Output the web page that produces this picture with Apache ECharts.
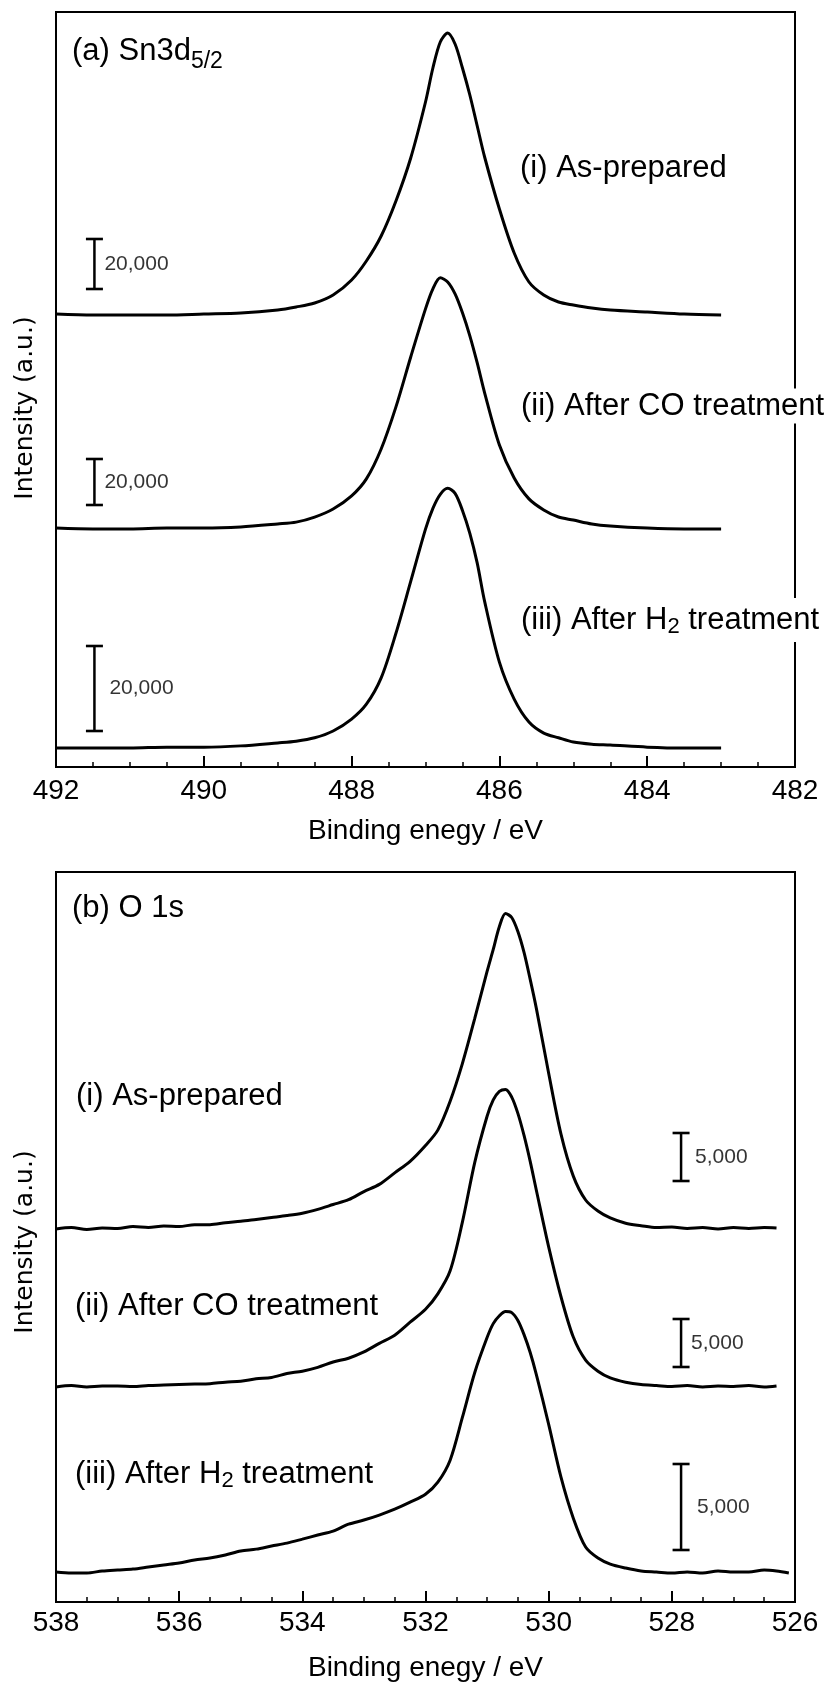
<!DOCTYPE html>
<html>
<head>
<meta charset="utf-8">
<script src="https://cdn.jsdelivr.net/npm/echarts@6/dist/echarts.min.js"></script>
<style>
html,body{margin:0;padding:0;background:#fff;}
#c{width:831px;height:1685px;}
</style>
</head>
<body>
<div id="c"></div>
<script>
// ---------------- DATA ----------------
// (a) Sn3d5/2 : binding energy (eV) and intensity above baseline (counts)
const energyA = [492.0, 491.5, 491.0, 490.5, 490.0, 489.5, 489.0, 488.75, 488.5, 488.25, 488.0, 487.8, 487.6, 487.4, 487.2, 487.0, 486.9, 486.8, 486.7, 486.6, 486.5, 486.4, 486.3, 486.2, 486.0, 485.8, 485.6, 485.4, 485.2, 485.0, 484.75, 484.5, 484.0, 483.5, 483.0];
const snAsPrepared = [800, 400, 400, 400, 800, 1200, 2400, 3600, 5200, 8400, 14400, 22000, 32000, 46000, 63200, 85600, 99200, 109600, 113200, 108800, 99200, 88400, 76000, 63600, 42800, 25200, 13600, 8400, 5600, 4400, 3200, 2400, 1600, 800, 400];
const snAfterCO = [400, 0, 0, 400, 400, 900, 2200, 3000, 5200, 8700, 14400, 21800, 34800, 53100, 74800, 95700, 104400, 109200, 107400, 102200, 94000, 84000, 72200, 59200, 36500, 22200, 13100, 8300, 5200, 3900, 2200, 1300, 400, 0, 0];
const snAfterH2 = [0, 0, 0, 200, 200, 500, 1200, 1600, 2400, 4000, 6800, 10300, 16500, 27000, 39200, 51500, 56400, 59700, 61100, 59900, 55900, 50500, 43500, 34500, 20200, 11500, 6100, 3500, 2400, 1400, 900, 700, 200, 0, 0];

// (b) O 1s
const energyB = [538.0, 537.75, 537.5, 537.25, 537.0, 536.75, 536.5, 536.25, 536.0, 535.75, 535.5, 535.25, 535.0, 534.75, 534.5, 534.25, 534.0, 533.75, 533.5, 533.25, 533.0, 532.75, 532.5, 532.25, 532.0, 531.8, 531.6, 531.4, 531.2, 531.0, 530.9, 530.8, 530.7, 530.6, 530.5, 530.4, 530.3, 530.2, 530.0, 529.8, 529.6, 529.4, 529.2, 529.0, 528.75, 528.5, 528.25, 528.0, 527.75, 527.5, 527.25, 527.0, 526.75, 526.5, 526.3, 526.1];
const oAsPrepared = [0, 150, -50, 100, 50, 250, 150, 300, 250, 450, 450, 650, 800, 1000, 1200, 1400, 1650, 2050, 2550, 3050, 3900, 4650, 5850, 7050, 8700, 10300, 13310, 17260, 21940, 26830, 29120, 31510, 32860, 32450, 30990, 28810, 26000, 22980, 16220, 9880, 5510, 3020, 1870, 1150, 600, 350, 150, 200, 50, 150, 0, 150, 50, 150, 100, null];
const oAfterCO = [0, 150, 0, 100, 100, 50, 150, 200, 250, 300, 350, 500, 600, 850, 1000, 1400, 1650, 2050, 2600, 3000, 3650, 4550, 5400, 6750, 8100, 9700, 12100, 17200, 23400, 28200, 29900, 30800, 31000, 30200, 28500, 26200, 23500, 20500, 14600, 9400, 5200, 2800, 1650, 950, 500, 250, 150, 50, 150, 0, 100, 50, 150, 0, 100, null];
const oAfterH2 = [0, -60, -60, 60, 120, 170, 290, 410, 520, 700, 810, 990, 1220, 1330, 1510, 1680, 1910, 2150, 2380, 2780, 3020, 3310, 3650, 4060, 4520, 5220, 6500, 9000, 11600, 13630, 14440, 14900, 15140, 15080, 14620, 13800, 12760, 11480, 8580, 5510, 3130, 1450, 810, 460, 230, 60, 0, -60, 0, -60, 60, 0, 0, 120, 60, -60];

const xTicksA = {min: 482, max: 492, step: 2};
const xTicksB = {min: 526, max: 538, step: 2};
const scaleUnitA = 20000;
const scaleUnitB = 5000;
const labelsA = ['(i) As-prepared', '(ii) After CO treatment', '(iii) After H', '2', ' treatment'];
const labelsB = labelsA;

// ---------------- LAYOUT ----------------
const FONT = '"Liberation Sans", Arial, sans-serif';
const GA = {left: 56, top: 12, width: 739, height: 755};
const GB = {left: 56, top: 872, width: 739, height: 730};

// offsets (a.u. from grid bottom) and display scale (a.u. per count)
const layoutA = [
  {data: snAsPrepared, base: 451, k: 0.0025,  bar: 478, gap: 10},
  {data: snAfterCO,    base: 238, k: 0.0023,  bar: 262, gap: 10},
  {data: snAfterH2,    base: 19,  k: 0.00425, bar: 36,  gap: 15}
];
const layoutB = [
  {data: oAsPrepared, base: 373, k: 0.0096, bar: 421, gap: 14},
  {data: oAfterCO,    base: 215, k: 0.0096, bar: 235, gap: 10},
  {data: oAfterH2,    base: 30,  k: 0.0172, bar: 52,  gap: 16}
];
const barXA = 491.48, barXB = 527.85;

function xAxisCfg(gi, t, margin, nameGap) {
  return {
    type: 'value', gridIndex: gi, min: t.min, max: t.max, interval: t.step, inverse: true,
    name: 'Binding enegy / eV', nameLocation: 'middle', nameGap: nameGap,
    nameTextStyle: {fontFamily: FONT, fontSize: 28, color: '#000'},
    axisLine: {show: true, onZero: false, lineStyle: {color: '#000', width: 2}},
    axisTick: {show: true, inside: true, length: 11, lineStyle: {color: '#000', width: 2}},
    minorTick: {show: true, splitNumber: 4, length: 5, lineStyle: {color: '#000', width: 1.5}},
    axisLabel: {fontFamily: FONT, fontSize: 28, color: '#000', margin: margin, showMinLabel: true, showMaxLabel: true},
    splitLine: {show: false}, minorSplitLine: {show: false}
  };
}
function yAxisCfg(gi, h) {
  return {type: 'value', gridIndex: gi, min: 0, max: h, show: false, splitLine: {show: false}};
}

const series = [];
function addPanel(gi, energies, layout, barX, unit, unitText) {
  layout.forEach(function (s) {
    const pts = [];
    energies.forEach(function (e, i) {
      if (s.data[i] !== null && s.data[i] !== undefined) pts.push([e, s.base + s.data[i] * s.k]);
    });
    series.push({
      type: 'line', xAxisIndex: gi, yAxisIndex: gi, data: pts,
      showSymbol: false, smooth: 0.3, silent: true, animation: false,
      lineStyle: {color: '#000', width: 3}, z: 3
    });
    const top = s.bar + unit * s.k;
    series.push({
      type: 'line', xAxisIndex: gi, yAxisIndex: gi,
      data: [[barX, s.bar], [barX, top]],
      symbol: 'rect', symbolSize: [17, 2.6], showSymbol: true, showAllSymbol: true,
      itemStyle: {color: '#000'}, lineStyle: {color: '#000', width: 2.5},
      silent: true, animation: false, z: 3
    });
    series.push({
      type: 'scatter', xAxisIndex: gi, yAxisIndex: gi,
      data: [[barX, (s.bar + top) / 2]], symbolSize: 0, silent: true, animation: false,
      itemStyle: {color: 'transparent'},
      label: {show: true, position: 'right', distance: s.gap, formatter: unitText,
              fontFamily: FONT, fontSize: 21, color: '#000'}
    });
  });
}
addPanel(0, energyA, layoutA, barXA, scaleUnitA, '20,000');
addPanel(1, energyB, layoutB, barXB, scaleUnitB, '5,000');

function txt(x, y, text, opt) {
  opt = opt || {};
  const st = {text: text, fill: '#000', fontFamily: FONT, fontSize: opt.fs || 31,
              align: opt.align || 'left', verticalAlign: 'middle'};
  if (opt.bg) { st.backgroundColor = '#fff'; st.padding = opt.pad || [2, 4]; }
  if (opt.rich) st.rich = opt.rich;
  if (opt.family) st.fontFamily = opt.family;
  return {type: 'text', x: x, y: y, z: 100, zlevel: 0, rotation: opt.rot || 0, silent: true, style: st};
}
const richSub = {
  m: {fontFamily: FONT, fontSize: 31, fill: '#000', lineHeight: 36},
  s: {fontFamily: FONT, fontSize: 22, fill: '#000', lineHeight: 22, verticalAlign: 'bottom'}
};
const richTitle = {
  m: {fontFamily: FONT, fontSize: 31, fill: '#000', lineHeight: 44},
  s: {fontFamily: FONT, fontSize: 23, fill: '#000', lineHeight: 22, verticalAlign: 'bottom'}
};

const graphics = [
  txt(72, 51, '{m|(a) Sn3d}{s|5/2}', {rich: richTitle}),
  txt(72, 908, '(b) O 1s'),
  txt(520, 168, labelsA[0]),
  txt(517, 406, labelsA[1], {bg: true}),
  txt(517, 620, '{m|' + labelsA[2] + '}{s|' + labelsA[3] + '}{m|' + labelsA[4] + '}', {bg: true, pad: [4, 4], rich: richSub}),
  txt(76, 1096, labelsB[0]),
  txt(75, 1306, labelsB[1]),
  txt(75, 1474, '{m|' + labelsB[2] + '}{s|' + labelsB[3] + '}{m|' + labelsB[4] + '}', {rich: richSub}),
  txt(25, 408, 'Intensity (a.u.)', {fs: 25, family: '"DejaVu Sans", sans-serif', align: 'center', rot: Math.PI / 2}),
  txt(25, 1242, 'Intensity (a.u.)', {fs: 25, family: '"DejaVu Sans", sans-serif', align: 'center', rot: Math.PI / 2})
];

const chart = echarts.init(document.getElementById('c'), null, {renderer: 'canvas', width: 831, height: 1685});
chart.setOption({
  animation: false,
  backgroundColor: '#fff',
  grid: [
    Object.assign({show: true, borderColor: '#000', borderWidth: 2, backgroundColor: 'transparent', containLabel: false, outerBoundsMode: 'none'}, GA),
    Object.assign({show: true, borderColor: '#000', borderWidth: 2, backgroundColor: 'transparent', containLabel: false, outerBoundsMode: 'none'}, GB)
  ],
  xAxis: [xAxisCfg(0, xTicksA, 10, 50), xAxisCfg(1, xTicksB, 7, 52)],
  yAxis: [yAxisCfg(0, GA.height), yAxisCfg(1, GB.height)],
  series: series,
  graphic: graphics
});
</script>
</body>
</html>
